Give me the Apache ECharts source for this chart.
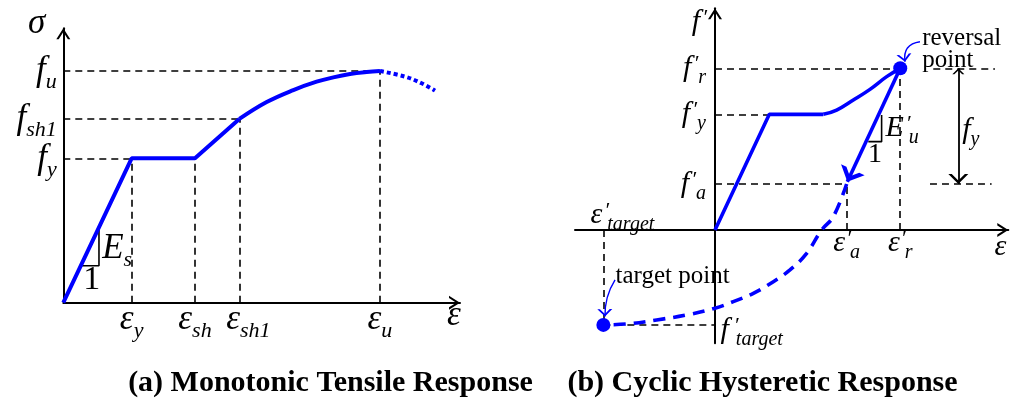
<!DOCTYPE html>
<html><head><meta charset="utf-8">
<script src="https://cdn.jsdelivr.net/npm/echarts@6/dist/echarts.min.js"></script>
<style>html,body{margin:0;padding:0;background:#fff}#c{width:1010px;height:400px}</style>
</head><body><div id="c"></div>
<script>
// ===== Panel (a): monotonic tensile response (strain / eps_y, stress / f_y)
const A_strainKeys = [1.0, 1.927, 2.576, 4.634];          // eps_y, eps_sh, eps_sh1, eps_u
const A_strainLabels = ['{m|ε}{s|y}', '{m|ε}{s|sh}', '{g| }{m|ε}{s|sh1}', '{m|ε}{s|u}'];
const A_stressKeys = [1.0, 1.273, 1.605];                 // f_y, f_sh1, f_u
const A_stressLabels = ['{m|f}{s|y}', '{m|f}{s|sh1}', '{m|f}{s|u}'];
const A_elasticPlateau = [[0, 0], [1.0, 1.0], [1.927, 1.0], [2.576, 1.273]];
const A_hardening = [[2.576, 1.273], [2.976, 1.390], [3.366, 1.473], [3.707, 1.531], [3.951, 1.561], [4.195, 1.584], [4.439, 1.598], [4.634, 1.605]];
const A_softening = [[4.634, 1.605], [5.0, 1.566], [5.244, 1.520], [5.439, 1.469]];
const A_slopeTriangle = [[0.268, 0.256], [0.522, 0.256], [0.522, 0.503]];
const A_notes = [
  { at: [0.561, 0.376], text: '{m|E}{s|s}', pos: 'right' },
  { at: [0.415, 0.157], text: '{r|1}', pos: 'inside' }
];

// ===== Panel (b): cyclic hysteretic response (strain / eps_y', stress / f_y')
const B_strainKeys = [2.423, 3.41];                        // eps_a', eps_r'
const B_strainLabels = ['{m|ε}{p|′}{s|a}', '{m|ε}{p|′}{s|r}'];
const B_stressKeys = [0.398, 1.0, 1.398];                  // f_a', f_y', f_r'
const B_stressLabels = ['{m|f}{q|′}{s|a}', '{m|f}{q|′}{s|y}', '{m|f}{q|′}{s|r}'];
const B_target = [-2.055, -0.821];                         // eps_target', f_target'
const B_elasticPlateau = [[0, 0], [1.0, 1.0], [1.994, 1.0]];
const B_hardening = [[1.994, 1.0], [2.239, 1.037], [2.546, 1.124], [2.853, 1.216], [3.160, 1.326], [3.41, 1.398]];
const B_unloading = [[3.41, 1.398], [2.436, 0.418]];
const B_reloading = [[2.423, 0.398], [2.178, 0.115], [1.963, 0], [1.687, -0.202], [1.380, -0.346], [1.074, -0.447], [0.706, -0.548], [0.337, -0.620], [0, -0.677], [-0.521, -0.735], [-1.074, -0.778], [-1.626, -0.813], [-2.055, -0.821]];
const B_slopeTriangle = [[2.822, 0.764], [3.067, 0.764], [3.067, 0.994]];
const B_fyDimension = [[4.479, 1.398], [4.479, 0.398]];
const B_fyDashes = [[[4.018, 1.398], [5.153, 1.398]], [[3.957, 0.398], [5.092, 0.398]]];
const B_reversalPointer = [[3.773, 1.628], [3.497, 1.455]];
const B_targetPointer = [[-1.840, -0.432], [-2.025, -0.749]];
const B_notes = [
  { at: [3.129, 0.879], text: '{m|E}{p|′}{s|u}', pos: 'right' },
  { at: [2.945, 0.648], text: '{r|1}', pos: 'inside' },
  { at: [4.54, 0.865], text: '{m|f}{s|y}', pos: 'right' },
  { at: [3.804, 1.5635], text: '{t|reversal}\n{t|point}', pos: 'right' },
  { at: [-1.840, -0.403], text: '{t|target point}', pos: 'right' },
  { at: [-2.301, 0.13], text: '{m|ε}{p|′}{s|target}', pos: 'right' },
  { at: [0.092, -0.865], text: '{m|f}{q|′}{s|target}', pos: 'right' }
];
const CAPTIONS = ['(a) Monotonic Tensile Response', '(b) Cyclic Hysteretic Response'];

// ===== styling
const SERIF = '"Liberation Serif","Times New Roman",serif';
const BLUE = '#0000ff';
const ARROW = 'path://M7,-11L7,-11M0,11L7,0L14,11L11.6,11L7,3.8L2.4,11Z';
const ARROW_BOLD = 'path://M7,-11L7,-11M0,11L7,0L14,11L10.8,11L7,5L3.2,11Z';
const RICH_A = {
  m: { fontFamily: SERIF, fontStyle: 'italic', fontSize: 35, color: '#000', lineHeight: 30 },
  s: { fontFamily: SERIF, fontStyle: 'italic', fontSize: 22, color: '#000', padding: [23, 0, 0, 0], lineHeight: 30 },
  r: { fontFamily: SERIF, fontSize: 34, color: '#000' },
  g: { fontFamily: SERIF, fontSize: 10, width: 18, lineHeight: 30 }
};
const RICH_B = {
  m: { fontFamily: SERIF, fontStyle: 'italic', fontSize: 30, color: '#000' },
  s: { fontFamily: SERIF, fontStyle: 'italic', fontSize: 20, color: '#000', padding: [19, 0, 0, 0] },
  p: { fontFamily: SERIF, fontStyle: 'italic', fontSize: 22, color: '#000', padding: [0, 0, 8, 2], width: 3 },
  q: { fontFamily: SERIF, fontStyle: 'italic', fontSize: 22, color: '#000', padding: [0, 0, 8, 5], width: 2 },
  r: { fontFamily: SERIF, fontSize: 28, color: '#000' },
  t: { fontFamily: SERIF, fontSize: 25, color: '#000', lineHeight: 22 }
};

function lookup(keys, labels) {
  return function (v) { const i = keys.indexOf(v); return i < 0 ? '' : labels[i]; };
}
function guides(gi, segs, extra) {
  return Object.assign({
    type: 'lines', coordinateSystem: 'cartesian2d', xAxisIndex: gi, yAxisIndex: gi,
    polyline: false, silent: true, symbol: 'none', z: 2,
    lineStyle: { color: '#000', width: 1.6, type: [7, 5], opacity: 1 },
    data: segs.map(s => ({ coords: s }))
  }, extra || {});
}
function curve(gi, data, style, extra) {
  return Object.assign({
    type: 'line', xAxisIndex: gi, yAxisIndex: gi, data: data, symbol: 'none', silent: true, z: 5,
    lineStyle: Object.assign({ color: BLUE, width: 4, opacity: 1 }, style)
  }, extra || {});
}
function notes(gi, list, rich) {
  return {
    type: 'scatter', xAxisIndex: gi, yAxisIndex: gi, symbolSize: 1, silent: true, z: 8,
    itemStyle: { color: 'rgba(0,0,0,0)', opacity: 1 },
    data: list.map(n => ({ value: n.at, label: { show: true, position: n.pos, distance: n.dist || 0, color: '#000', opacity: 1, formatter: n.text, rich: rich } }))
  };
}
function tickLabels(keys, labels, rich, margin) {
  return { customValues: keys, formatter: lookup(keys, labels), rich: rich, margin: margin, hideOverlap: false, showMinLabel: true, showMaxLabel: true };
}
const axisLineStyle = { color: '#000', width: 2 };

const [EPS_Y, EPS_SH, EPS_SH1, EPS_U] = A_strainKeys;
const [F_Y, F_SH1, F_U] = A_stressKeys;
const [EPS_A, EPS_R] = B_strainKeys;
const [FA, FY2, FR] = B_stressKeys;

// stress tick labels of panel (a) sit close together; they are placed on the axis as labelled points
const A_stressTickNotes = A_stressKeys.map((v, i) => ({ at: [0, v], text: A_stressLabels[i], pos: 'left', dist: 6 }));

// layout of panel (b): axes cross at zero, labels must follow the crossing
const GRID_B = { left: 575, top: 8.3, width: 433.3, height: 335 };
const B_X_RANGE = [-2.577, 5.399], B_Y_RANGE = [-0.980, 1.917];
const B_X_OFFSET = -(0 - B_Y_RANGE[0]) / (B_Y_RANGE[1] - B_Y_RANGE[0]) * GRID_B.height;
const B_Y_OFFSET = -(0 - B_X_RANGE[0]) / (B_X_RANGE[1] - B_X_RANGE[0]) * GRID_B.width;

const option = {
  animation: false,
  backgroundColor: '#fff',
  grid: [
    { left: 63.3, top: 28.3, width: 396.7, height: 274.4, outerBoundsMode: 'none' },
    Object.assign({ outerBoundsMode: 'none' }, GRID_B)
  ],
  xAxis: [
    {
      gridIndex: 0, type: 'value', min: 0, max: 5.805,
      axisLine: { show: true, onZero: false, symbol: ['none', ARROW], symbolSize: [14, 22], lineStyle: axisLineStyle },
      axisTick: { show: false }, splitLine: { show: false },
      axisLabel: tickLabels(A_strainKeys, A_strainLabels, RICH_A, 2.5),
      name: '{m|ε}', nameLocation: 'end', nameGap: -6, nameMoveOverlap: false,
      nameTextStyle: { rich: RICH_A, align: 'center', verticalAlign: 'middle', padding: [26, 0, 0, 0] }
    },
    {
      gridIndex: 1, type: 'value', min: B_X_RANGE[0], max: B_X_RANGE[1], offset: B_X_OFFSET,
      axisLine: { show: true, onZero: false, symbol: ['none', ARROW], symbolSize: [14, 22], lineStyle: axisLineStyle },
      axisTick: { show: false }, splitLine: { show: false },
      axisLabel: tickLabels(B_strainKeys, B_strainLabels, RICH_B, -6),
      name: '{m|ε}', nameLocation: 'end', nameGap: -8, nameMoveOverlap: false,
      nameTextStyle: { rich: RICH_B, align: 'center', verticalAlign: 'middle', padding: [34, 0, 0, 0] }
    }
  ],
  yAxis: [
    {
      gridIndex: 0, type: 'value', min: 0, max: 1.901,
      axisLine: { show: true, onZero: false, symbol: ['none', ARROW], symbolSize: [14, 22], lineStyle: axisLineStyle },
      axisTick: { show: false }, splitLine: { show: false },
      axisLabel: { show: false },
      name: '{m|σ}', nameLocation: 'end', nameGap: 5, nameMoveOverlap: false,
      nameTextStyle: { rich: RICH_A, align: 'right', verticalAlign: 'middle', padding: [0, 18, 0, 0] }
    },
    {
      gridIndex: 1, type: 'value', min: B_Y_RANGE[0], max: B_Y_RANGE[1], offset: B_Y_OFFSET,
      axisLine: { show: true, onZero: false, symbol: ['none', ARROW], symbolSize: [14, 22], lineStyle: axisLineStyle },
      axisTick: { show: false }, splitLine: { show: false },
      axisLabel: tickLabels(B_stressKeys, B_stressLabels, RICH_B, 9),
      name: '{m|f}{q|′}', nameLocation: 'end', nameGap: -14, nameMoveOverlap: false,
      nameTextStyle: { rich: RICH_B, align: 'right', verticalAlign: 'middle', padding: [0, 8, 0, 0] }
    }
  ],
  graphic: [
    { type: 'text', x: 330.5, y: 383, silent: true, style: { text: CAPTIONS[0], fontFamily: SERIF, fontSize: 30, fontWeight: 'bold', fill: '#000', align: 'center', verticalAlign: 'middle' } },
    { type: 'text', x: 762.5, y: 383, silent: true, style: { text: CAPTIONS[1], fontFamily: SERIF, fontSize: 30, fontWeight: 'bold', fill: '#000', align: 'center', verticalAlign: 'middle' } }
  ],
  series: [
    // ---- panel (a)
    guides(0, [
      [[0, F_Y], [EPS_Y, F_Y]], [[0, F_SH1], [EPS_SH1, F_SH1]], [[0, F_U], [EPS_U, F_U]],
      [[EPS_Y, 0], [EPS_Y, F_Y]], [[EPS_SH, 0], [EPS_SH, F_Y]], [[EPS_SH1, 0], [EPS_SH1, F_SH1]], [[EPS_U, 0], [EPS_U, F_U]]
    ]),
    curve(0, A_slopeTriangle, { color: '#000', width: 1.6 }, { z: 4 }),
    curve(0, A_elasticPlateau, {}),
    curve(0, A_hardening, {}, { smooth: 0.4 }),
    curve(0, A_softening, { type: [4, 3] }, { smooth: 0.4 }),
    notes(0, A_notes.concat(A_stressTickNotes), RICH_A),
    // ---- panel (b)
    guides(1, [
      [[0, FR], [EPS_R, FR]], [[0, FY2], [B_elasticPlateau[1][0], FY2]], [[0, FA], [EPS_A, FA]],
      [[EPS_A, 0], [EPS_A, FA]], [[EPS_R, 0], [EPS_R, FR]],
      [[B_target[0], 0], B_target], [B_target, [0, B_target[1]]]
    ].concat(B_fyDashes)),
    curve(1, B_slopeTriangle, { color: '#000', width: 1.6 }, { z: 4 }),
    curve(1, B_elasticPlateau, { width: 3.6 }),
    curve(1, B_hardening, { width: 3.6 }, { smooth: 0.4 }),
    curve(1, B_reloading, { width: 3.6, type: [12, 8] }, { smooth: 0.4 }),
    guides(1, [B_unloading], { z: 5, symbol: ['none', ARROW_BOLD], symbolSize: [16, 26], lineStyle: { color: BLUE, width: 3.6, type: 'solid', opacity: 1 } }),
    guides(1, [B_fyDimension], { z: 5, symbol: [ARROW, ARROW], symbolSize: [12, 20], lineStyle: { color: '#000', width: 1.8, type: 'solid', opacity: 1 } }),
    guides(1, [B_reversalPointer], { z: 5, symbol: ['none', ARROW], symbolSize: [9, 15], lineStyle: { color: BLUE, width: 1.4, type: 'solid', opacity: 1, curveness: -0.5 } }),
    guides(1, [B_targetPointer], { z: 5, symbol: ['none', ARROW], symbolSize: [9, 15], lineStyle: { color: BLUE, width: 1.4, type: 'solid', opacity: 1, curveness: -0.15 } }),
    {
      type: 'scatter', xAxisIndex: 1, yAxisIndex: 1, symbolSize: 14, silent: true, z: 7,
      itemStyle: { color: BLUE, opacity: 1 },
      data: [[EPS_R, FR], B_target]
    },
    notes(1, B_notes, RICH_B)
  ]
};
const chart = echarts.init(document.getElementById('c'), null, { renderer: 'canvas' });
chart.setOption(option);
</script>
</body></html>
